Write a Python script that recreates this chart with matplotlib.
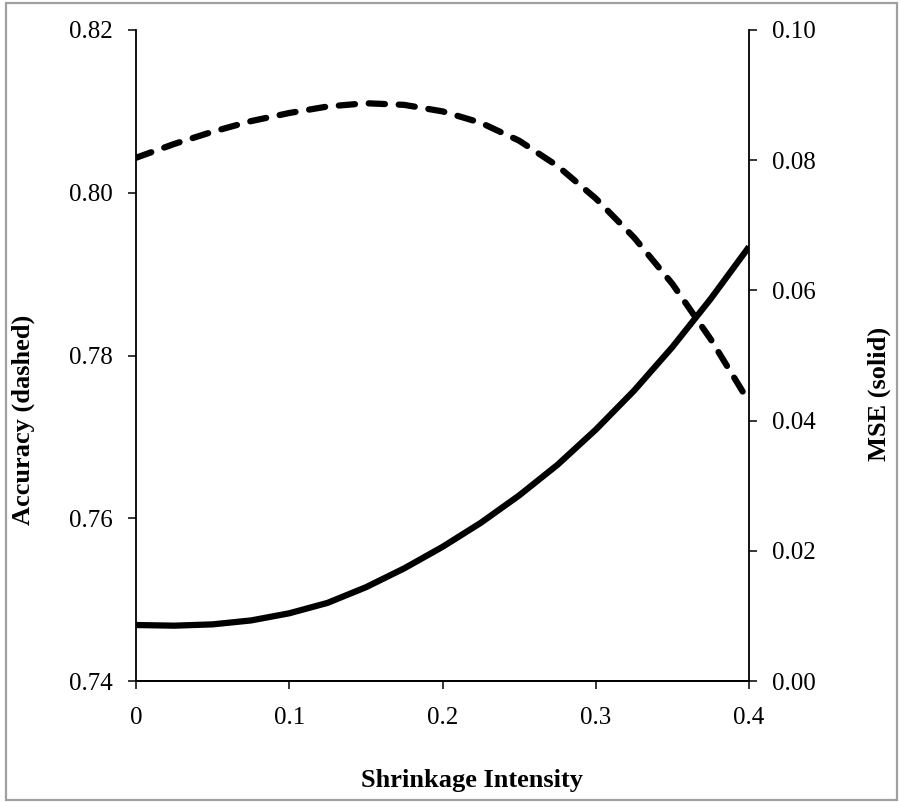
import matplotlib
matplotlib.use('Agg')
import matplotlib.pyplot as plt
import matplotlib.patches as patches

# shrinkage intensity and the two curves
shrink = [0.0, 0.025, 0.05, 0.075, 0.1, 0.125, 0.15, 0.175, 0.2,
          0.225, 0.25, 0.275, 0.3, 0.325, 0.35, 0.375, 0.4]
accuracy = [0.8043, 0.8060, 0.8075, 0.8088, 0.8098, 0.8106, 0.8110, 0.8108, 0.8100,
            0.8086, 0.8064, 0.8033, 0.7993, 0.7945, 0.7888, 0.7820, 0.7743]
mse = [0.0086, 0.0085, 0.0087, 0.0093, 0.0104, 0.0120, 0.0144, 0.0173, 0.0206,
       0.0243, 0.0285, 0.0332, 0.0386, 0.0446, 0.0513, 0.0587, 0.0667]

xticks = [0, 0.1, 0.2, 0.3, 0.4]
xtick_labels = ['0', '0.1', '0.2', '0.3', '0.4']
acc_ticks = [0.74, 0.76, 0.78, 0.80, 0.82]
mse_ticks = [0.00, 0.02, 0.04, 0.06, 0.08, 0.10]

plt.rcParams['font.family'] = ['Liberation Serif', 'DejaVu Serif']

fig = plt.figure(figsize=(9, 8.02), dpi=100)
ax1 = fig.add_axes([136/900, 1-681/802, 613/900, 651/802])
ax2 = ax1.twinx()

ax1.plot(shrink, accuracy, color='black', linewidth=4.5,
         linestyle=(0, (2.6, 2.2)), dash_capstyle='round', solid_joinstyle='round')
ax2.plot(shrink, mse, color='black', linewidth=4.5, solid_capstyle='butt',
         solid_joinstyle='round')

ax1.set_xlim(0, 0.4)
ax1.set_ylim(0.74, 0.82)
ax2.set_ylim(0.0, 0.10)

ax1.set_xticks(xticks)
ax1.set_xticklabels(xtick_labels)
ax1.set_yticks(acc_ticks)
ax1.set_yticklabels(['%.2f' % v for v in acc_ticks])
ax2.set_yticks(mse_ticks)
ax2.set_yticklabels(['%.2f' % v for v in mse_ticks])

for ax in (ax1, ax2):
    ax.spines['top'].set_visible(False)
    for s in ax.spines.values():
        s.set_linewidth(1.3)
    ax.tick_params(direction='out', length=5.5, width=1.1, labelsize=18)
ax1.spines['right'].set_visible(False)
ax2.spines['left'].set_visible(False)
ax1.tick_params(axis='x', pad=13)
ax1.tick_params(axis='y', pad=11)
ax2.tick_params(axis='y', pad=11)

ax1.set_xlabel('Shrinkage Intensity', fontsize=19, fontweight='bold')
ax1.set_ylabel('Accuracy (dashed)', fontsize=19, fontweight='bold')
ax2.set_ylabel('MSE (solid)', fontsize=19, fontweight='bold', rotation=90)
ax1.xaxis.set_label_coords(0.548, -0.135)
ax1.yaxis.set_label_coords(-0.165, 0.401)
ax2.yaxis.set_label_coords(1.194, 0.441)

# light grey frame round the whole chart
fig.patches.append(patches.Rectangle((6/900, 2/802), 891/900, 797/802,
                                     transform=fig.transFigure, fill=False,
                                     edgecolor='#a0a0a0', linewidth=1.6))

fig.savefig('out.png', dpi=100)
